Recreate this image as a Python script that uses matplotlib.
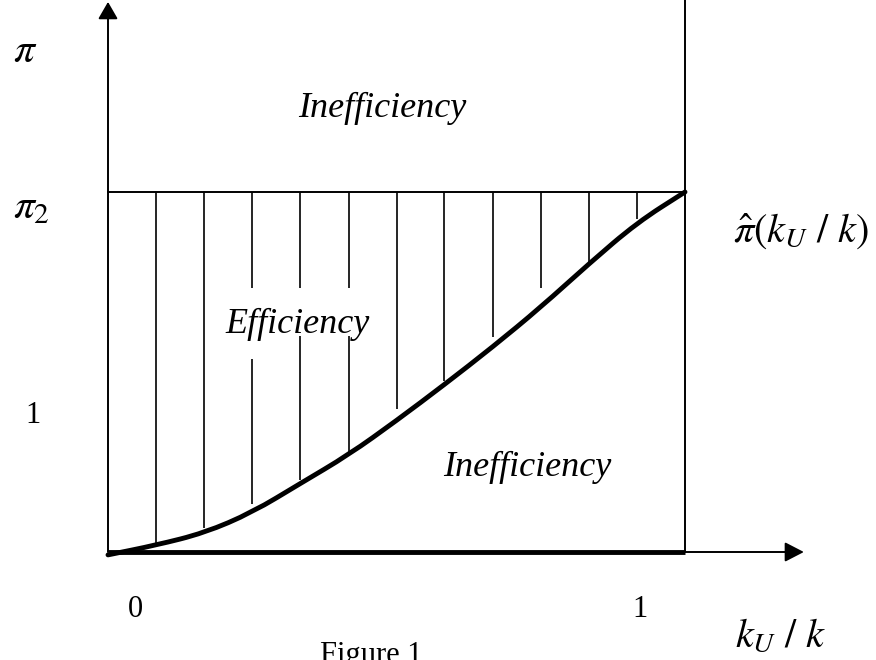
import numpy as np
import matplotlib
matplotlib.use('Agg')
import matplotlib.pyplot as plt
from matplotlib.path import Path
from matplotlib.patches import PathPatch

plt.rcParams['font.family'] = ['Liberation Serif', 'DejaVu Serif']
plt.rcParams['mathtext.fontset'] = 'stix'

# curve pi_hat(k_U/k), x in units of k_U/k (0..1), y in units of pi_2
curve_x = [0.0, 0.083, 0.167, 0.25, 0.333, 0.417, 0.5, 0.583, 0.667, 0.75, 0.833, 0.917, 1.0]
curve_y = [-0.008, 0.019, 0.053, 0.11, 0.19, 0.27, 0.365, 0.465, 0.57, 0.68, 0.80, 0.915, 1.0]

# vertical hatch lines of the efficiency region
hatch_x = [0.083, 0.167, 0.25, 0.333, 0.417, 0.5, 0.583, 0.667, 0.75, 0.833, 0.917]
hatch_bottom = [0.019, 0.067, 0.133, 0.2, 0.275, 0.397, 0.476, 0.598, 0.733, 0.80, 0.925]
# gaps left open around the word "Efficiency" (index: (low, high))
hatch_gaps = {2: (0.536, 0.733), 3: (0.6, 0.733), 4: (0.6, 0.733)}

pi2 = 1.0
x_arrow_end = 1.206
y_arrow_end = 1.528

fig = plt.figure(figsize=(8.76, 6.6), dpi=100)
ax = fig.add_axes([0, 0, 1, 1])
ax.set_xlim(-108 / 577, 768 / 577)
ax.set_ylim(-0.3, 552 / 360)
ax.axis('off')

thin = 1.4
thick = 3.5

# axes with arrows
ax.annotate('', xy=(0, y_arrow_end), xytext=(0, 0),
            arrowprops=dict(arrowstyle='-|>,head_length=0.52,head_width=0.3',
                            mutation_scale=20, lw=thin, color='black',
                            shrinkA=0, shrinkB=0))
ax.annotate('', xy=(x_arrow_end, 0), xytext=(1, 0),
            arrowprops=dict(arrowstyle='-|>,head_length=0.58,head_width=0.3',
                            mutation_scale=20, lw=thin, color='black',
                            shrinkA=0, shrinkB=0))
ax.plot([0, 1], [0, 0], color='black', lw=thick, solid_capstyle='butt')
ax.plot([1, 1], [0, 2], color='black', lw=thin)
ax.plot([0, 1], [pi2, pi2], color='black', lw=thin)

# hatching
for i, (hx, hb) in enumerate(zip(hatch_x, hatch_bottom)):
    if i in hatch_gaps:
        lo, hi = hatch_gaps[i]
        ax.vlines(hx, hi, pi2, color='black', lw=1.2)
        ax.vlines(hx, hb, lo, color='black', lw=1.2)
    else:
        ax.vlines(hx, hb, pi2, color='black', lw=1.2)

# smooth curve through the read points
pts = np.column_stack([curve_x, curve_y])
verts = [pts[0], (pts[0] + pts[1]) / 2]
codes = [Path.MOVETO, Path.LINETO]
for i in range(1, len(pts) - 1):
    verts += [pts[i], (pts[i] + pts[i + 1]) / 2]
    codes += [Path.CURVE3, Path.CURVE3]
verts.append(pts[-1])
codes.append(Path.LINETO)
ax.add_patch(PathPatch(Path(verts, codes), facecolor='none', edgecolor='black',
                       lw=thick, capstyle='round', joinstyle='round'))

# region labels
ax.text(0.476, 1.209, 'Inefficiency', style='italic', fontsize=26, ha='center', va='baseline')
ax.text(0.328, 0.608, 'Efficiency', style='italic', fontsize=26, ha='center', va='baseline')
ax.text(0.726, 0.211, 'Inefficiency', style='italic', fontsize=26, ha='center', va='baseline')

# axis labels
ax.text(-0.1646, 1.361, r'$\pi$', fontsize=30, ha='left', va='baseline')
ax.text(-0.1646, 0.928, r'$\pi_2$', fontsize=30, ha='left', va='baseline')
ax.text(-0.1308, 0.358, '1', fontsize=22, ha='center', va='baseline')
ax.text(0.0477, -0.181, '0', fontsize=22, ha='center', va='baseline')
ax.text(0.922, -0.181, '1', fontsize=22, ha='center', va='baseline')
ax.text(1.0832, 0.861, r'$\hat{\pi}(k_U\ /\ k)$', fontsize=29, ha='left', va='baseline')
ax.text(1.0867, -0.263, r'$k_U\ /\ k$', fontsize=29, ha='left', va='baseline')
ax.text(0.457, -0.308, 'Figure 1', fontsize=22, ha='center', va='baseline')

fig.savefig('out.png', dpi=100)
